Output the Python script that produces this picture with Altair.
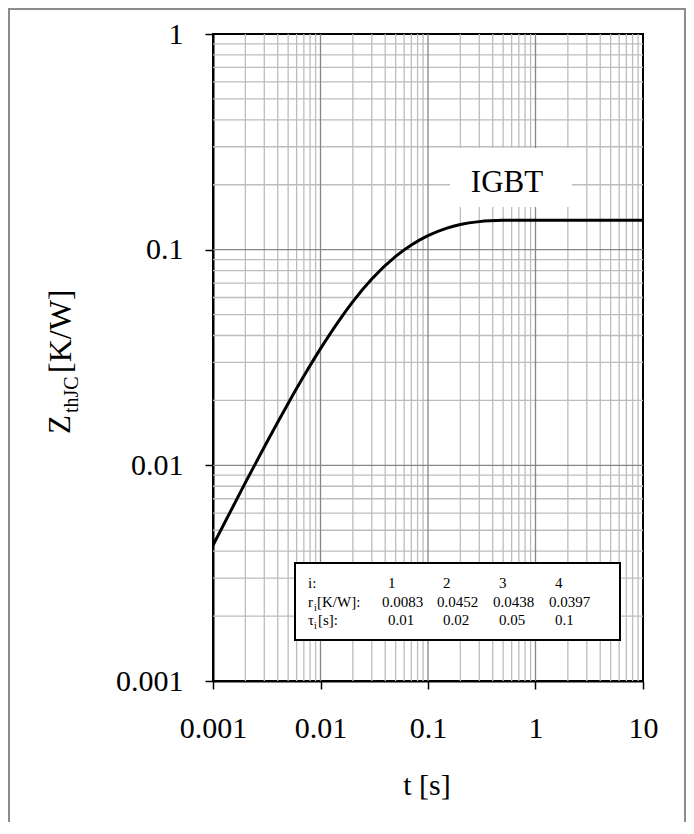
import altair as alt
import pandas as pd

FONT = "Liberation Serif, Times New Roman, serif"

# Curve
t_s = [0.001, 0.002, 0.003, 0.005, 0.007, 0.01, 0.015, 0.02, 0.03, 0.05, 0.07,
       0.1, 0.15, 0.2, 0.3, 0.5, 0.7, 1, 2, 5, 10]
zth = [0.00426, 0.00831, 0.01217, 0.01937, 0.02593, 0.03475, 0.04718, 0.05739,
       0.07306, 0.09304, 0.10511, 0.11616, 0.12594, 0.13082, 0.13491, 0.13673,
       0.13696, 0.1370, 0.1370, 0.1370, 0.1370]

# Table text
col_i = ["1", "2", "3", "4"]
r_vals = ["0.0083", "0.0452", "0.0438", "0.0397"]
tau_vals = ["0.01", "0.02", "0.05", "0.1"]

x_ticks = [0.001, 0.01, 0.1, 1, 10]
y_ticks = [0.001, 0.01, 0.1, 1]
decades_x = [0.001, 0.01, 0.1, 1]
decades_y = [0.001, 0.01, 0.1]
multiples = [2, 3, 4, 5, 6, 7, 8, 9]
x_minor = [round(d * m, 6) for d in decades_x for m in multiples]
y_minor = [round(d * m, 6) for d in decades_y for m in multiples]
x_major = [0.01, 0.1, 1]
y_major = [0.01, 0.1]

W, H = 430, 647
xscale = alt.Scale(type="log", domain=[0.001, 10], nice=False)
yscale = alt.Scale(type="log", domain=[0.001, 1], nice=False)
one = pd.DataFrame({"a": [0]})

AX = alt.Axis(
    values=x_ticks, format="~g", title=None, grid=False, tickSize=8,
    tickColor="black", tickWidth=1.5, domainColor="black", domainWidth=2,
    labelFont=FONT, labelFontSize=30, labelColor="black", labelPadding=24,
    labelFlush=False, labelOverlap=False)
AY = alt.Axis(
    values=y_ticks, format="~g", title=None, grid=False, tickSize=8,
    tickColor="black", tickWidth=1.5, domainColor="black", domainWidth=2,
    labelFont=FONT, labelFontSize=30, labelColor="black", labelPadding=22,
    labelOverlap=False)


def px(x):  # page x -> view x
    return x - 213


def py(y):  # page y -> view y
    return y - 34


def label(txt, x, y, size, align="left", angle=0, baseline="alphabetic"):
    return alt.Chart(one).mark_text(
        text=txt, font=FONT, fontSize=size, color="black", align=align,
        baseline=baseline, angle=angle
    ).encode(x=alt.value(px(x)), y=alt.value(py(y)))


frame = alt.Chart(one).mark_rect(filled=False, stroke="#8c8c8c", strokeWidth=2).encode(
    x=alt.value(px(9)), x2=alt.value(px(685)), y=alt.value(py(9)), y2=alt.value(py(825)))

gx_minor = alt.Chart(pd.DataFrame({"v": x_minor})).mark_rule(
    color="#bdbdbd", strokeWidth=1.3).encode(x=alt.X("v:Q", scale=xscale, axis=AX))
gy_minor = alt.Chart(pd.DataFrame({"v": y_minor})).mark_rule(
    color="#bdbdbd", strokeWidth=1.3).encode(y=alt.Y("v:Q", scale=yscale, axis=AY))
gx_major = alt.Chart(pd.DataFrame({"v": x_major})).mark_rule(
    color="#868686", strokeWidth=1.3).encode(x=alt.X("v:Q", scale=xscale, axis=AX))
gy_major = alt.Chart(pd.DataFrame({"v": y_major})).mark_rule(
    color="#868686", strokeWidth=1.3).encode(y=alt.Y("v:Q", scale=yscale, axis=AY))

curve = alt.Chart(pd.DataFrame({"t": t_s, "z": zth})).mark_line(
    color="black", strokeWidth=3, interpolate="monotone", clip=True
).encode(
    x=alt.X("t:Q", scale=xscale, axis=AX),
    y=alt.Y("z:Q", scale=yscale, axis=AY),
)

box = alt.Chart(one).mark_rect(fill="white", stroke="black", strokeWidth=2).encode(
    x=alt.value(px(295)), x2=alt.value(px(620)), y=alt.value(py(563)), y2=alt.value(py(640)))

igbt_bg = alt.Chart(one).mark_rect(fill="white").encode(
    x=alt.value(px(450)), x2=alt.value(px(572)), y=alt.value(py(148)), y2=alt.value(py(207)))

layers = [frame, gx_minor, gy_minor, gx_major, gy_major, box, igbt_bg]

# table texts
FS = 15
row_y = [588, 607, 625]
xs_i = [388, 443, 499, 555]
xs_r = [382, 437, 493, 549]
layers.append(label("i:", 308, row_y[0], FS))
layers.append(label("r", 308, row_y[1], FS))
layers.append(label("i", 314, row_y[1] + 4, 10))
layers.append(label("[K/W]:", 317, row_y[1], FS))
layers.append(label("τ", 308, row_y[2], FS))
layers.append(label("i", 314, row_y[2] + 4, 10))
layers.append(label("[s]:", 318, row_y[2], FS))
for s, x in zip(col_i, xs_i):
    layers.append(label(s, x, row_y[0], FS))
for s, x in zip(r_vals, xs_r):
    layers.append(label(s, x, row_y[1], FS))
for s, x in zip(tau_vals, xs_i):
    layers.append(label(s, x, row_y[2], FS))

layers.append(label("IGBT", 507, 192, 31, align="center"))
layers.append(curve)

# axis titles
layers.append(label("t [s]", 427, 795, 30, align="center"))
layers.append(label("Z", 70, 434, 31, angle=270))
layers.append(label("thJC", 78, 413, 20, angle=270))
layers.append(label("[K/W]", 71, 373, 32, angle=270))

chart = alt.layer(*layers).properties(
    width=W, height=H,
    autosize=alt.AutoSizeParams(type="none"),
    padding={"left": 205, "top": 26, "right": 43, "bottom": 141},
    background="white",
).configure_view(stroke="black", strokeWidth=2)

chart.save("out.html", embed_options={"renderer": "svg", "actions": False})
